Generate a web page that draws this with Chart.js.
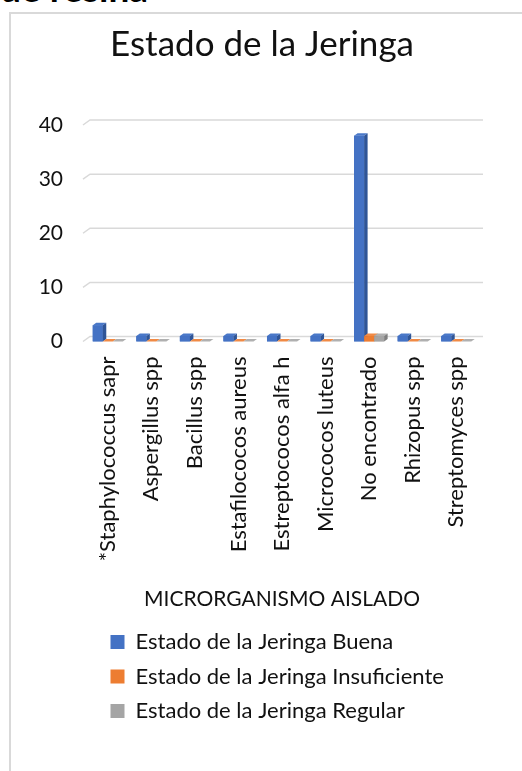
<!DOCTYPE html>
<html>
<head>
<meta charset="utf-8">
<script src="https://cdn.jsdelivr.net/npm/chart.js@4"></script>
<style>
    html, body { margin: 0; padding: 0; background: #fff; overflow: hidden; }
    .heading {
        position: absolute; left: 0; top: -30px;
        font: bold 37px/36px Lato, sans-serif; color: #000; white-space: nowrap;
    }
    .frame {
        position: absolute; left: 9px; top: 12px; width: 600px; height: 800px;
        border-left: 2px solid #d9d9d9; border-top: 2px solid #d9d9d9;
    }
    #chartJeringa { position: absolute; left: 10px; top: 14px; }
</style>
</head>
<body>
<div class="heading">de resina</div>
<div class="frame"></div>
<canvas id="chartJeringa" width="512" height="757"></canvas>
<script>
const categories = ['*Staphylococcus sapr', 'Aspergillus spp', 'Bacillus spp', 'Estafilococos aureus',
    'Estreptococos alfa h', 'Micrococos luteus', 'No encontrado', 'Rhizopus spp', 'Streptomyces spp'];
const buena = [3, 1, 1, 1, 1, 1, 38, 1, 1];
const insuficiente = [0, 0, 0, 0, 0, 0, 1, 0, 0];
const regular = [0, 0, 0, 0, 0, 0, 1, 0, 0];
const yTicks = [0, 10, 20, 30, 40];

Chart.defaults.font.family = 'Lato';
Chart.defaults.color = '#111';

// 3D look: back wall gridlines with a slanted floor edge
const wallGrid = {
    id: 'wallGrid',
    beforeDatasetsDraw(chart) {
        const { ctx, chartArea, scales } = chart;
        ctx.save();
        ctx.strokeStyle = '#d9d9d9';
        ctx.lineWidth = 1.5;
        yTicks.forEach(v => {
            const y = scales.y.getPixelForValue(v);
            ctx.beginPath();
            ctx.moveTo(chartArea.left - 3, y);
            ctx.lineTo(chartArea.left + 4, y - 5);
            ctx.lineTo(chartArea.right + 5, y - 5);
            ctx.stroke();
        });
        ctx.restore();
    }
};

// redraw columns left to right with top and side faces
const sideColors = ['#2f5597', '#b35c1e', '#7f7f7f'];
const topColors = ['#4a78c8', '#f08a45', '#b0b0b0'];
const columnFaces = {
    id: 'columnFaces',
    afterDatasetsDraw(chart) {
        const { ctx } = chart;
        const dx = 3.5, dy = 2.5;
        ctx.save();
        chart.data.datasets.forEach((ds, i) => {
            chart.getDatasetMeta(i).data.forEach(bar => {
                const { x, y, base, width } = bar.getProps(['x', 'y', 'base', 'width'], true);
                const l = x - width / 2, r = x + width / 2;
                bar.draw(ctx);
                ctx.fillStyle = topColors[i];
                ctx.beginPath();
                ctx.moveTo(l, y);
                ctx.lineTo(l + dx, y - dy);
                ctx.lineTo(r + dx, y - dy);
                ctx.lineTo(r, y);
                ctx.closePath();
                ctx.fill();
                ctx.fillStyle = sideColors[i];
                ctx.beginPath();
                ctx.moveTo(r, y);
                ctx.lineTo(r + dx, y - dy);
                ctx.lineTo(r + dx, base - dy);
                ctx.lineTo(r, base);
                ctx.closePath();
                ctx.fill();
            });
        });
        ctx.restore();
    }
};

// title sits centred on the whole frame, legend column starts further in
const boxShift = {
    id: 'boxShift',
    afterLayout(chart) {
        chart.titleBlock.right += 36;
        chart.legend.left += 12;
        chart.legend.right += 12;
    }
};

new Chart(document.getElementById('chartJeringa'), {
    type: 'bar',
    data: {
        labels: categories,
        datasets: [
            { label: 'Estado de la Jeringa Buena', data: buena, backgroundColor: '#4472c4' },
            { label: 'Estado de la Jeringa Insuficiente', data: insuficiente, backgroundColor: '#ed7d31' },
            { label: 'Estado de la Jeringa Regular', data: regular, backgroundColor: '#a5a5a5' }
        ]
    },
    options: {
        responsive: false,
        animation: false,
        datasets: {
            bar: { barPercentage: 1, categoryPercentage: 0.69, borderWidth: 0 }
        },
        layout: {
            padding: { left: 0, right: 44, top: 0, bottom: 39 }
        },
        plugins: {
            title: {
                display: true,
                text: 'Estado de la Jeringa',
                color: '#111',
                font: { size: 35, weight: 'normal' },
                padding: { top: 10, bottom: 59 }
            },
            legend: {
                position: 'bottom',
                align: 'start',
                fullSize: false,
                labels: {
                    boxWidth: 14,
                    boxHeight: 14,
                    padding: 12.5,
                    color: '#111',
                    font: { size: 22 }
                }
            },
            tooltip: { enabled: false }
        },
        scales: {
            x: {
                grid: { display: false, drawTicks: false },
                border: { display: false },
                ticks: {
                    autoSkip: false,
                    minRotation: 90,
                    maxRotation: 90,
                    padding: 15,
                    color: '#111',
                    font: { size: 22 }
                },
                title: {
                    display: true,
                    text: 'MICRORGANISMO AISLADO',
                    color: '#111',
                    font: { size: 21 },
                    padding: { top: 0, bottom: 7 }
                },
                afterFit: scale => { scale.height = 277; }
            },
            y: {
                min: 0,
                max: 40,
                grid: { display: false, drawTicks: false },
                border: { display: false },
                ticks: {
                    stepSize: 10,
                    padding: 23,
                    color: '#111',
                    font: { size: 21 }
                },
                afterFit: scale => { scale.width = 76; }
            }
        }
    },
    plugins: [wallGrid, columnFaces, boxShift]
});
</script>
</body>
</html>
